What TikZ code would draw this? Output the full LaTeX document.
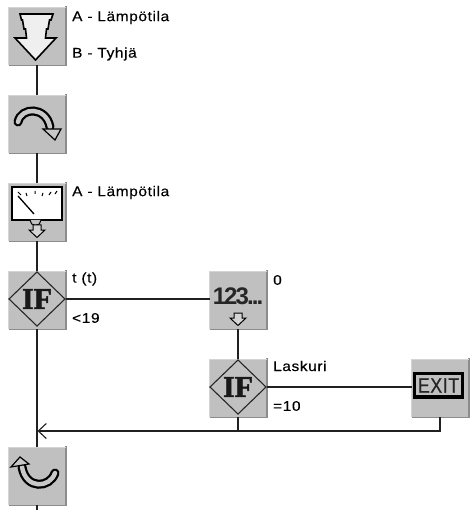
\documentclass[tikz,border=0pt]{standalone}
\usepackage{fontspec}
\setmainfont{Liberation Sans}[FakeStretch=1.1,LetterSpace=4.5,FakeBold=0.3]
\newfontfamily\iffont{Liberation Serif}[FakeBold=1.5]
\newfontfamily\numfont{Liberation Sans}
\usetikzlibrary{arrows.meta}
\definecolor{boxgray}{HTML}{C0C0C0}
\definecolor{boxdark}{HTML}{8C8C8C}
\definecolor{boxlight}{HTML}{D4D4D4}
\definecolor{wire}{HTML}{202020}
\definecolor{iconfill}{HTML}{EFEFEF}
\definecolor{bandfill}{HTML}{C8C8C8}
\tikzset{
  flowbox/.style={fill=boxgray,minimum width=57pt,minimum height=58pt,inner sep=0pt,outer sep=0pt},
  lbl/.style={anchor=west,inner sep=0pt,font=\fontsize{14}{16}\selectfont,text=black},
  wireline/.style={draw=wire,line width=1.5pt},
  icon/.style={draw=black,line width=1.3pt,fill=iconfill,line join=miter},
  smallarrow/.style={draw=black,line width=1pt,fill=boxlight},
  ifmark/.style={inner sep=0pt,font=\iffont\bfseries\fontsize{30}{30}\selectfont,text=black!90},
}
\newcommand{\flowbox}[3]{%
  \node[flowbox] (#1) at (#2,#3) {};
  \draw[boxdark,line width=1.5pt] ([xshift=.5pt,yshift=1pt]#1.north east) -- ([xshift=.5pt,yshift=-.5pt]#1.south east) -- ([yshift=-.5pt]#1.south west);
  \draw[boxlight,line width=.8pt] (#1.south west) -- (#1.north west) -- (#1.north east);
}
\newcommand{\ifsign}[1]{%
  \draw[line width=1.1pt,draw=black!85,fill=boxgray,shift={(#1.center)}] (-28,-1) -- (0,-28) -- (28,-1) -- (0,26) -- cycle;
  \node[ifmark] at ([yshift=1pt]#1.center) {IF};
}
\newcommand{\downmark}[1]{%
  \draw[smallarrow,shift={(#1.center)}] (-4,13) -- (4,13) -- (4,18) -- (8,18) -- (0,25.5) -- (-8,18) -- (-4,18) -- cycle;
}
\begin{document}
\begin{tikzpicture}[x=1pt,y=-1pt]
\useasboundingbox (0,0) rectangle (470,510);
\fill[white] (0,0) rectangle (470,510);

\flowbox{get}{37}{36}
\flowbox{turn}{37}{124}
\flowbox{meter}{37}{212}
\flowbox{ifa}{37}{300}
\flowbox{num}{238}{300}
\flowbox{ifb}{238}{388}
\flowbox{exit}{440}{388}
\flowbox{back}{37}{476}

\coordinate (tail) at (37,510);
\coordinate (jb) at (238,431);
\coordinate (ja) at (37.5,431);

% connectors
\draw[wireline] (get.south) -- (turn.north);
\draw[wireline] (turn.south) -- (meter.north);
\draw[wireline] (meter.south) -- (ifa.north);
\draw[wireline] (ifa.south) -- (back.north);
\draw[wireline] (back.south) -- (tail);
\draw[wireline] ([yshift=1pt]ifa.east) -- ([yshift=1pt]num.west);
\draw[wireline] (num.south) -- (ifb.north);
\draw[wireline] ([yshift=1pt]ifb.east) -- ([yshift=1pt]exit.west);
\draw[wireline] (ifb.south) -- (jb);
\draw[wireline,-{Straight Barb[length=8pt,width=15pt,line width=1.1pt]}] (exit.south) |- (ja);

% down arrow icon
\draw[icon,line width=1.6pt] (20,14) -- (53,14) -- (51,20) -- (49.5,20) -- (48,29) -- (46.5,29) -- (45.5,38) -- (56,38) -- (35.5,60) -- (15,38) -- (26.5,38) -- (25.5,29) -- (24,29) -- (22.5,20) -- (21.5,20) -- cycle;

% turn icon
\draw[black,line width=9pt,line cap=round] (18,122) .. controls (21,107) and (46,106) .. (50,127);
\draw[bandfill,line width=4.5pt,line cap=round] (18,122) .. controls (21,107) and (46,106) .. (50,127);
\draw[icon,line width=1.2pt,fill=bandfill] (43,129) -- (61,129) -- (55,140) -- cycle;

% gauge icon
\draw[black,line width=2.2pt,fill=white] (12,187) rectangle (62,220);
\draw[black,line width=1pt] (18,192) -- (21,195) (26,193) -- (27,196) (35,191) -- (35,194) (43,193) -- (42,196) (51,192) -- (49,195) (57,191) -- (55,194);
\draw[black,line width=1.3pt] (18,196) -- (34,214);
\draw[black,line width=1pt,fill=boxgray] (30,220) arc[start angle=180,end angle=0,radius=5.5];
\downmark{meter}

% numbers
\node[inner sep=0pt,font=\numfont\bfseries\fontsize{24}{24}\selectfont,text=black!85] at (238,296) {\addfontfeature{LetterSpace=-8}123...};
\downmark{num}

% IF icons
\ifsign{ifa}
\ifsign{ifb}

% exit icon
\draw[black,line width=3.4pt] (414.5,373.5) rectangle (462.5,397);
\node[inner sep=0pt,font=\numfont\fontsize{21}{21}\selectfont,text=black!85] at (438.5,385.5) {\scalebox{.85}[1]{\addfontfeature{LetterSpace=3,FakeBold=0.5}EXIT}};

% return icon
\draw[black,line width=9pt,line cap=round] (55,473) .. controls (50,488) and (26,490) .. (22,467);
\draw[bandfill,line width=4.5pt,line cap=round] (55,473) .. controls (50,488) and (26,490) .. (22,467);
\draw[icon,line width=1.2pt,fill=bandfill] (11,467) -- (20,457) -- (29,464) -- cycle;

% labels
\node[lbl] (t1) at (72,17.5) {A - Lämpötila};
\node[lbl] (t2) at (72,54) {B - Tyhjä};
\node[lbl] (t3) at (72,192.5) {A - Lämpötila};
\node[lbl] (t4) at (72,279) {t (t)};
\node[lbl] (t5) at (72,318) {<19};
\node[lbl] (t6) at (273,280) {0};
\node[lbl] (t7) at (273,366) {Laskuri};
\node[lbl] (t8) at (273,406) {=10};
\end{tikzpicture}
\end{document}
